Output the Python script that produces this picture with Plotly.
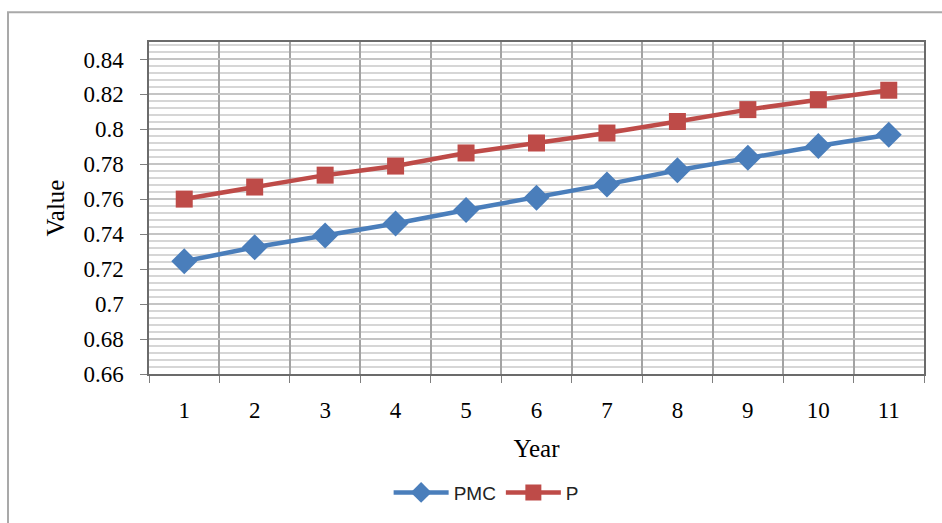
import plotly.graph_objects as go

# Yearly index values for the two series
years = ["1", "2", "3", "4", "5", "6", "7", "8", "9", "10", "11"]
pmc_values = [0.7245, 0.7325, 0.7393, 0.7461, 0.7539, 0.7609, 0.7685, 0.7766, 0.7837, 0.7905, 0.7969]
p_values = [0.7601, 0.7670, 0.7738, 0.7790, 0.7865, 0.7922, 0.7979, 0.8045, 0.8113, 0.8170, 0.8224]

y_tick_vals = [0.66, 0.68, 0.70, 0.72, 0.74, 0.76, 0.78, 0.80, 0.82, 0.84]
y_tick_text = ["0.66", "0.68", "0.7", "0.72", "0.74", "0.76", "0.78", "0.8", "0.82", "0.84"]

BLUE = "#4a7ebb"
RED = "#be4b48"
SERIF = "Liberation Serif, Times New Roman, serif"
SANS = "Liberation Sans, Arial, sans-serif"

W, H = 942, 523
L, R, T, B = 149, 18, 42, 146
plot_w = W - L - R
plot_h = H - T - B

fig = go.Figure()
fig.add_trace(go.Scatter(
    x=years, y=pmc_values, name="PMC", mode="lines+markers",
    line=dict(color=BLUE, width=4.5),
    marker=dict(symbol="diamond", size=20, color=BLUE),
))
fig.add_trace(go.Scatter(
    x=years, y=p_values, name="P", mode="lines+markers",
    line=dict(color=RED, width=4.5),
    marker=dict(symbol="square", size=17, color=RED),
))

# outer chart frame (extends past the right and bottom edges)
def px_to_paper_x(px):
    return (px - L) / plot_w

def px_to_paper_y(py):
    return (H - B - py) / plot_h

fig.add_shape(
    type="rect", xref="paper", yref="paper", layer="below",
    x0=px_to_paper_x(8), x1=px_to_paper_x(975),
    y0=px_to_paper_y(560), y1=px_to_paper_y(12),
    line=dict(color="#a9a9a9", width=2), fillcolor="rgba(0,0,0,0)",
)

fig.update_layout(
    width=W, height=H,
    margin=dict(l=L, r=R, t=T, b=B, pad=0),
    paper_bgcolor="white", plot_bgcolor="white",
    showlegend=True,
    legend=dict(
        orientation="h", x=0.435, xanchor="center", y=-0.30, yanchor="top",
        font=dict(family=SANS, size=19, color="#222222"),
        itemwidth=55, tracegroupgap=0,
    ),
    xaxis=dict(
        type="category", tickson="boundaries", range=[-0.5, 10.5],
        showgrid=True, gridcolor="#a3a3a3", gridwidth=1.5,
        showline=True, linecolor="#6b6b6b", linewidth=1.5, mirror=True,
        ticks="outside", ticklen=7, tickcolor="#7f7f7f",
        tickfont=dict(family=SERIF, size=23, color="black"),
        ticklabelstandoff=15,
        title=dict(text="Year", font=dict(family=SERIF, size=25, color="black"), standoff=17),
        zeroline=False,
    ),
    yaxis=dict(
        range=[0.66, 0.85], tickvals=y_tick_vals, ticktext=y_tick_text,
        showgrid=True, gridcolor="#c4c4c4", gridwidth=1.5,
        minor=dict(dtick=0.004, tick0=0.66, showgrid=True, gridcolor="#d6d6d6", gridwidth=1.5),
        showline=True, linecolor="#6b6b6b", linewidth=1.5, mirror=True,
        ticks="outside", ticklen=7, tickcolor="#7f7f7f",
        tickfont=dict(family=SERIF, size=23, color="black"),
        ticklabelstandoff=12,
        title=dict(text="Value", font=dict(family=SERIF, size=25, color="black"), standoff=12),
        zeroline=False,
    ),
)

fig.write_html("out.html")
